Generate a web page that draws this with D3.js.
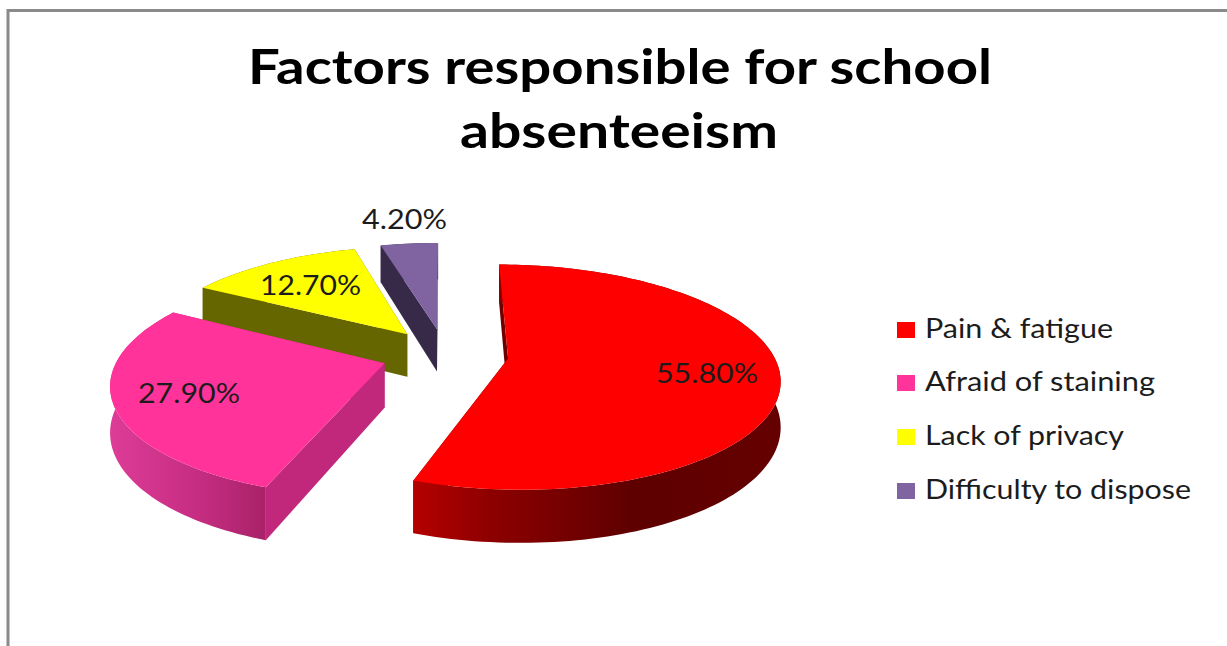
<!DOCTYPE html>
<html>
<head>
<meta charset="utf-8">
<script src="https://cdn.jsdelivr.net/npm/d3@7"></script>
<style>
  html, body { margin: 0; padding: 0; background: #fff; overflow: hidden; }
  svg { display: block; }
  text { font-family: Lato, "Open Sans", sans-serif; fill: #1c1c1c; }
</style>
</head>
<body>
<svg id="chart" width="1227" height="646"></svg>
<script>
// Chart content
const categories = ["Pain & fatigue", "Afraid of staining", "Lack of privacy", "Difficulty to dispose"];
const shares = [55.8, 27.9, 12.7, 4.2];
const titleLines = ["Factors responsible for school", "absenteeism"];

// Slice styling, in the same order as the categories
const topColors = ["#ff0000", "#ff3399", "#ffff00", "#8064a2"];
const sideColors = ["#6e0000", "#c1277a", "#666600", "#362a48"];
const rimStops = [
  [["0", "#b40000"], ["0.22", "#8c0000"], ["0.6", "#5e0000"], ["1", "#650000"]],
  [["0", "#dd3c97"], ["0.6", "#c42c80"], ["1", "#a92268"]],
  [["0", "#666600"], ["1", "#666600"]],
  [["0", "#362a48"], ["1", "#362a48"]]
];

// Text placement: [left edge, baseline, drawn width]
const valueLabelBoxes = [[656, 383, 102], [138, 403, 102], [260, 295, 101], [362, 229, 85]];
const legendWidths = [188, 230, 199, 266];
const legendBaselines = [338, 391, 445, 499];
const legendSwatchTops = [322, 375, 429, 483];

// Pie projection settings
const centre = { x: 445, y: 354 };
const radius = { x: 265, y: 108 };
const perspective = 0.165;
const thickness = 44;
const explode = 0.24;

const svg = d3.select("#chart");
const defs = svg.append("defs");

// Frame around the chart area
svg.append("path")
  .attr("d", "M8 646V10.5H1227")
  .attr("fill", "none")
  .attr("stroke", "#8a8a8a")
  .attr("stroke-width", 3);

// Title
const titleBoxes = [[248, 84, 744], [460, 148, 318]];
svg.selectAll("text.title")
  .data(titleLines)
  .join("text")
  .attr("class", "title")
  .attr("x", (d, i) => titleBoxes[i][0])
  .attr("y", (d, i) => titleBoxes[i][1])
  .attr("textLength", (d, i) => titleBoxes[i][2])
  .attr("lengthAdjust", "spacingAndGlyphs")
  .attr("font-size", 47)
  .attr("font-weight", 700)
  .style("fill", "#000")
  .text(d => d);

// Scales from the unit pie plane onto the page
const px = d3.scaleLinear().domain([-1, 1]).range([centre.x - radius.x, centre.x + radius.x]);
const py = d3.scaleLinear().domain([-1, 1]).range([centre.y + radius.y, centre.y - radius.y]);

function project(u, v, drop) {
  const w = 1 / (1 + perspective * v);
  return [px(u * w), py(v * w) + drop * thickness * w];
}

const angles = d3.pie().sort(null).startAngle(0).endAngle(2 * Math.PI)(shares);
const outline = d3.line();

const slices = angles.map((a, i) => {
  const mid = (a.startAngle + a.endAngle) / 2;
  const ou = explode * Math.sin(mid);
  const ov = explode * Math.cos(mid);
  const steps = Math.max(8, Math.ceil((a.endAngle - a.startAngle) * 40));
  const thetas = d3.range(steps + 1).map(s => a.startAngle + (a.endAngle - a.startAngle) * s / steps);
  const rimAt = drop => thetas.map(t => project(ou + Math.sin(t), ov + Math.cos(t), drop));
  const apexAt = drop => project(ou, ov, drop);
  return { i, rimAt, apexAt };
});

// Painted back to front: the narrowest slices sit at the rear
slices.slice().reverse().forEach(s => {
  const g = svg.append("g").attr("class", "slice");
  const rimTop = s.rimAt(0);
  const rimBottom = s.rimAt(1);
  const apexTop = s.apexAt(0);
  const apexBottom = s.apexAt(1);

  // Flat walls along both cut edges
  [0, rimTop.length - 1].forEach(end => {
    g.append("path")
      .attr("d", outline([apexTop, rimTop[end], rimBottom[end], apexBottom]) + "Z")
      .attr("fill", sideColors[s.i]);
  });

  // Curved outer wall with its shading running left to right
  const xs = d3.extent(rimTop, p => p[0]);
  const gradId = "rim" + s.i;
  defs.append("linearGradient")
    .attr("id", gradId)
    .attr("gradientUnits", "userSpaceOnUse")
    .attr("x1", xs[0]).attr("x2", xs[1]).attr("y1", 0).attr("y2", 0)
    .selectAll("stop")
    .data(rimStops[s.i])
    .join("stop")
    .attr("offset", d => d[0])
    .attr("stop-color", d => d[1]);
  g.append("path")
    .attr("d", outline(rimTop.concat(rimBottom.slice().reverse())) + "Z")
    .attr("fill", `url(#${gradId})`);

  // Top face
  g.append("path")
    .attr("d", outline([apexTop].concat(rimTop)) + "Z")
    .attr("fill", topColors[s.i]);
});

// Value labels
svg.selectAll("text.value")
  .data(shares)
  .join("text")
  .attr("class", "value")
  .attr("x", (d, i) => valueLabelBoxes[i][0])
  .attr("y", (d, i) => valueLabelBoxes[i][1])
  .attr("textLength", (d, i) => valueLabelBoxes[i][2])
  .attr("lengthAdjust", "spacingAndGlyphs")
  .attr("font-size", 26)
  .text(d => d.toFixed(2) + "%");

// Legend
const legend = svg.selectAll("g.legend")
  .data(categories)
  .join("g")
  .attr("class", "legend");
legend.append("rect")
  .attr("x", 897)
  .attr("y", (d, i) => legendSwatchTops[i])
  .attr("width", 18)
  .attr("height", 16)
  .attr("fill", (d, i) => topColors[i]);
legend.append("text")
  .attr("x", 925)
  .attr("y", (d, i) => legendBaselines[i])
  .attr("textLength", (d, i) => legendWidths[i])
  .attr("lengthAdjust", "spacingAndGlyphs")
  .attr("font-size", 26)
  .text(d => d);
</script>
</body>
</html>
